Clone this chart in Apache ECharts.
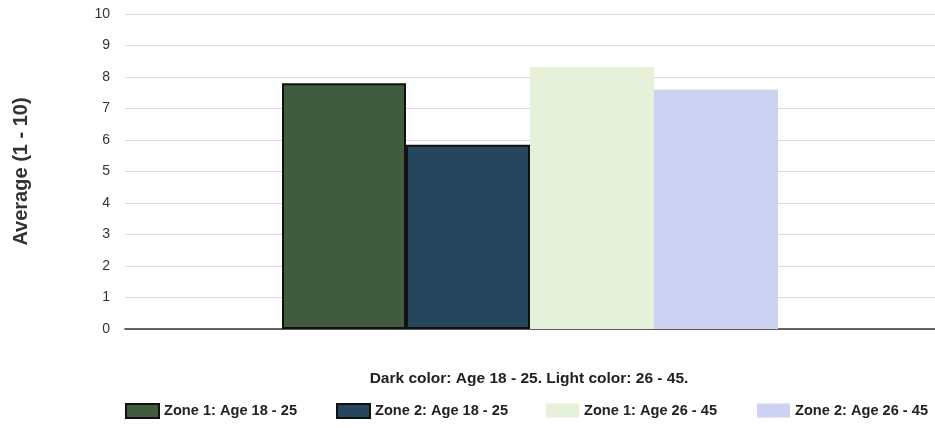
<!DOCTYPE html>
<html><head><meta charset="utf-8">
<script src="https://cdn.jsdelivr.net/npm/echarts@6/dist/echarts.min.js"></script>
<style>html,body{margin:0;padding:0;background:#fff}#c{width:935px;height:428px}</style>
</head><body><div id="c"></div>
<script>
const categories = [''];
const seriesNames = ['Zone 1: Age 18 - 25', 'Zone 2: Age 18 - 25', 'Zone 1: Age 26 - 45', 'Zone 2: Age 26 - 45'];
const seriesValues = [[7.8], [5.85], [8.32], [7.6]];
const yTicks = [0, 1, 2, 3, 4, 5, 6, 7, 8, 9, 10];
const colors = ['#415b3e', '#25465c', '#e6f1da', '#cdd2f2'];
const borders = ['#111', '#111', '#e6f1da', '#cdd2f2'];
const legendLefts = [125, 336, 546, 757];

const chart = echarts.init(document.getElementById('c'));
chart.setOption({
  animation: false,
  title: {
    text: 'Dark color: Age 18 - 25. Light color: 26 - 45.',
    left: 529, top: 371, textAlign: 'center', padding: 0,
    textStyle: { fontFamily: 'Liberation Sans', fontSize: 15.5, fontWeight: 'bold', color: '#222' }
  },
  legend: seriesNames.map((n, i) => ({
    data: [n], left: legendLefts[i], top: 403, padding: 0,
    itemWidth: 33, itemHeight: 14, itemGap: 0,
    icon: 'rect',
    textStyle: { fontFamily: 'Liberation Sans', fontSize: 14.6, fontWeight: 'bold', color: '#222' }
  })),
  grid: { left: 125, right: 0, top: 14, bottom: 99 },
  xAxis: {
    type: 'category', data: categories,
    axisLine: { lineStyle: { color: '#333', width: 1.5 } },
    axisTick: { show: false }, axisLabel: { show: false }
  },
  yAxis: {
    type: 'value', min: yTicks[0], max: yTicks[yTicks.length - 1], interval: 1,
    name: 'Average (1 - 10)', nameLocation: 'middle', nameGap: 94,
    nameTextStyle: { fontFamily: 'Liberation Sans', fontSize: 20, fontWeight: 'bold', color: '#333' },
    axisLine: { show: false }, axisTick: { show: false },
    axisLabel: { fontFamily: 'Liberation Sans', fontSize: 14, color: '#333', margin: 15 },
    splitLine: { lineStyle: { color: '#dcdcdc' } }
  },
  series: seriesNames.map((n, i) => ({
    name: n, type: 'bar', data: seriesValues[i],
    barWidth: 124, barGap: '0%',
    itemStyle: { color: colors[i], borderColor: borders[i], borderWidth: i < 2 ? 2 : 0 }
  }))
});
</script></body></html>
